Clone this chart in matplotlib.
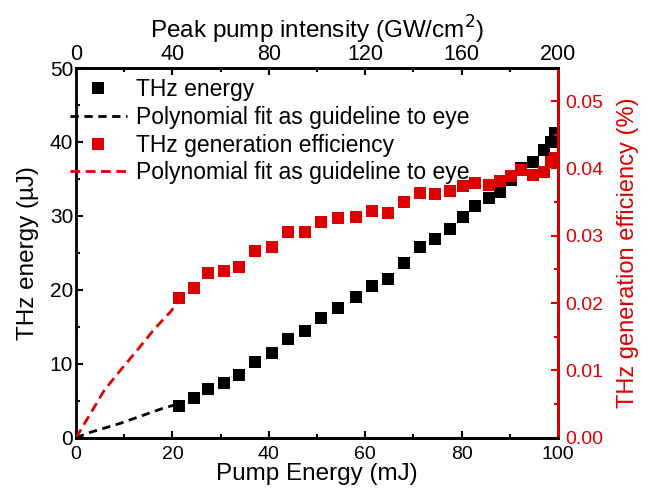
import matplotlib

matplotlib.use("Agg")
import matplotlib.pyplot as plt

plt.rcParams["font.family"] = ["Liberation Sans", "DejaVu Sans"]

# pump energy (mJ) shared by both series
pump_mj = [21.3, 24.4, 27.4, 30.6, 33.8, 37.1, 40.6, 44.0, 47.5, 50.9, 54.4, 58.0,
           61.4, 64.7, 68.1, 71.3, 74.5, 77.5, 80.3, 82.8, 85.6, 88.0, 90.3, 92.3,
           94.8, 97.1, 98.6, 99.4]
thz_uj = [4.36, 5.36, 6.62, 7.47, 8.47, 10.2, 11.4, 13.4, 14.4, 16.2, 17.6, 19.1,
          20.5, 21.5, 23.7, 25.8, 26.9, 28.3, 29.8, 31.3, 32.4, 33.3, 34.9, 36.5,
          37.3, 38.9, 40.0, 41.2]
eff_pct = [0.0208, 0.0223, 0.0245, 0.0248, 0.0254, 0.0277, 0.0284, 0.0306, 0.0306,
           0.0320, 0.0326, 0.0328, 0.0336, 0.0334, 0.0350, 0.0364, 0.0362, 0.0367,
           0.0374, 0.0379, 0.0376, 0.0382, 0.0388, 0.0397, 0.0390, 0.0394, 0.0410,
           0.0416]

# guideline curves (0 -> first data point)
guide_x = [0.0, 2.4, 5.9, 9.3, 13.6, 17.9, 21.3]
guide_energy = [0.0, 0.63, 1.31, 1.98, 2.97, 3.96, 4.6]
guide_eff_x = [0.0, 1.0, 5.9, 9.3, 12.8, 16.2, 19.7, 21.3]
guide_eff = [0.0, 0.0012, 0.0071, 0.0101, 0.0131, 0.0161, 0.0188, 0.0203]

RED = "#DD0000"

fig = plt.figure(figsize=(6.52, 4.93), dpi=100)
ax = fig.add_axes([0.1166, 0.112, 0.7394, 0.750])
ax2 = ax.twinx()

ln1, = ax.plot(pump_mj, thz_uj, "s", color="black", markersize=9, markeredgewidth=0,
               label="THz energy", zorder=3)
ln2, = ax.plot(guide_x, guide_energy, "--", color="black", lw=2, dashes=(3, 2),
               label="Polynomial fit as guideline to eye")
ln3, = ax2.plot(pump_mj, eff_pct, "s", color=RED, markersize=9, markeredgewidth=0,
                label="THz generation efficiency", zorder=3)
ln4, = ax2.plot(guide_eff_x, guide_eff, "--", color=RED, lw=2, dashes=(3.5, 2),
                label="Polynomial fit as guideline to eye")

ax.set_xlim(0, 100)
ax.set_ylim(0, 50)
ax2.set_ylim(0, 0.0549)

ax.set_xticks([0, 20, 40, 60, 80, 100])
ax.set_xticks(range(10, 100, 20), minor=True)
ax.set_yticks([0, 10, 20, 30, 40, 50])
ax.set_yticks(range(5, 50, 10), minor=True)
ax2.set_yticks([0.0, 0.01, 0.02, 0.03, 0.04, 0.05])
ax2.set_yticks([0.005, 0.015, 0.025, 0.035, 0.045], minor=True)
ax2.set_yticklabels(["0.00", "0.01", "0.02", "0.03", "0.04", "0.05"])

ax.set_xlabel("Pump Energy (mJ)", fontsize=17.5, labelpad=0)
ax.set_ylabel("THz energy (\u00b5J)", fontsize=17.5, labelpad=8)
ax2.set_ylabel("THz generation efficiency (%)", fontsize=17, color=RED, labelpad=10)

for a in (ax, ax2):
    for s in a.spines.values():
        s.set_linewidth(2)
ax2.spines["right"].set_color(RED)
ax2.spines["left"].set_visible(False)

ax.tick_params(which="both", direction="in", width=1.5)
ax.tick_params(axis="x", labelsize=14, pad=6)
ax.tick_params(axis="y", labelsize=15, pad=2)
ax.tick_params(which="major", length=5)
ax.tick_params(which="minor", length=3)
ax.tick_params(axis="y", which="both", right=False)
ax2.tick_params(which="both", direction="in", labelsize=14, width=1.5,
                colors=RED, pad=5)
ax2.tick_params(which="major", length=5)
ax2.tick_params(which="minor", length=3)

top = ax.secondary_xaxis("top", functions=(lambda x: x * 2, lambda x: x / 2))
top.set_xticks([0, 40, 80, 120, 160, 200])
top.set_xticks([20, 60, 100, 140, 180], minor=True)
top.tick_params(which="both", direction="in", labelsize=15.5, width=1.5, pad=2)
top.tick_params(which="major", length=5)
top.tick_params(which="minor", length=3)
top.spines["top"].set_linewidth(2)
top.set_xlabel("Peak pump intensity (GW/cm$^2$)", fontsize=17.5, labelpad=4)

ax.legend(handles=[ln1, ln2, ln3, ln4], loc="upper left", frameon=False,
          fontsize=16.5, handlelength=2.5, handletextpad=0.4, labelspacing=0.2,
          borderpad=0, borderaxespad=0, bbox_to_anchor=(-0.013, 0.972))

fig.savefig("out.png", dpi=100)
